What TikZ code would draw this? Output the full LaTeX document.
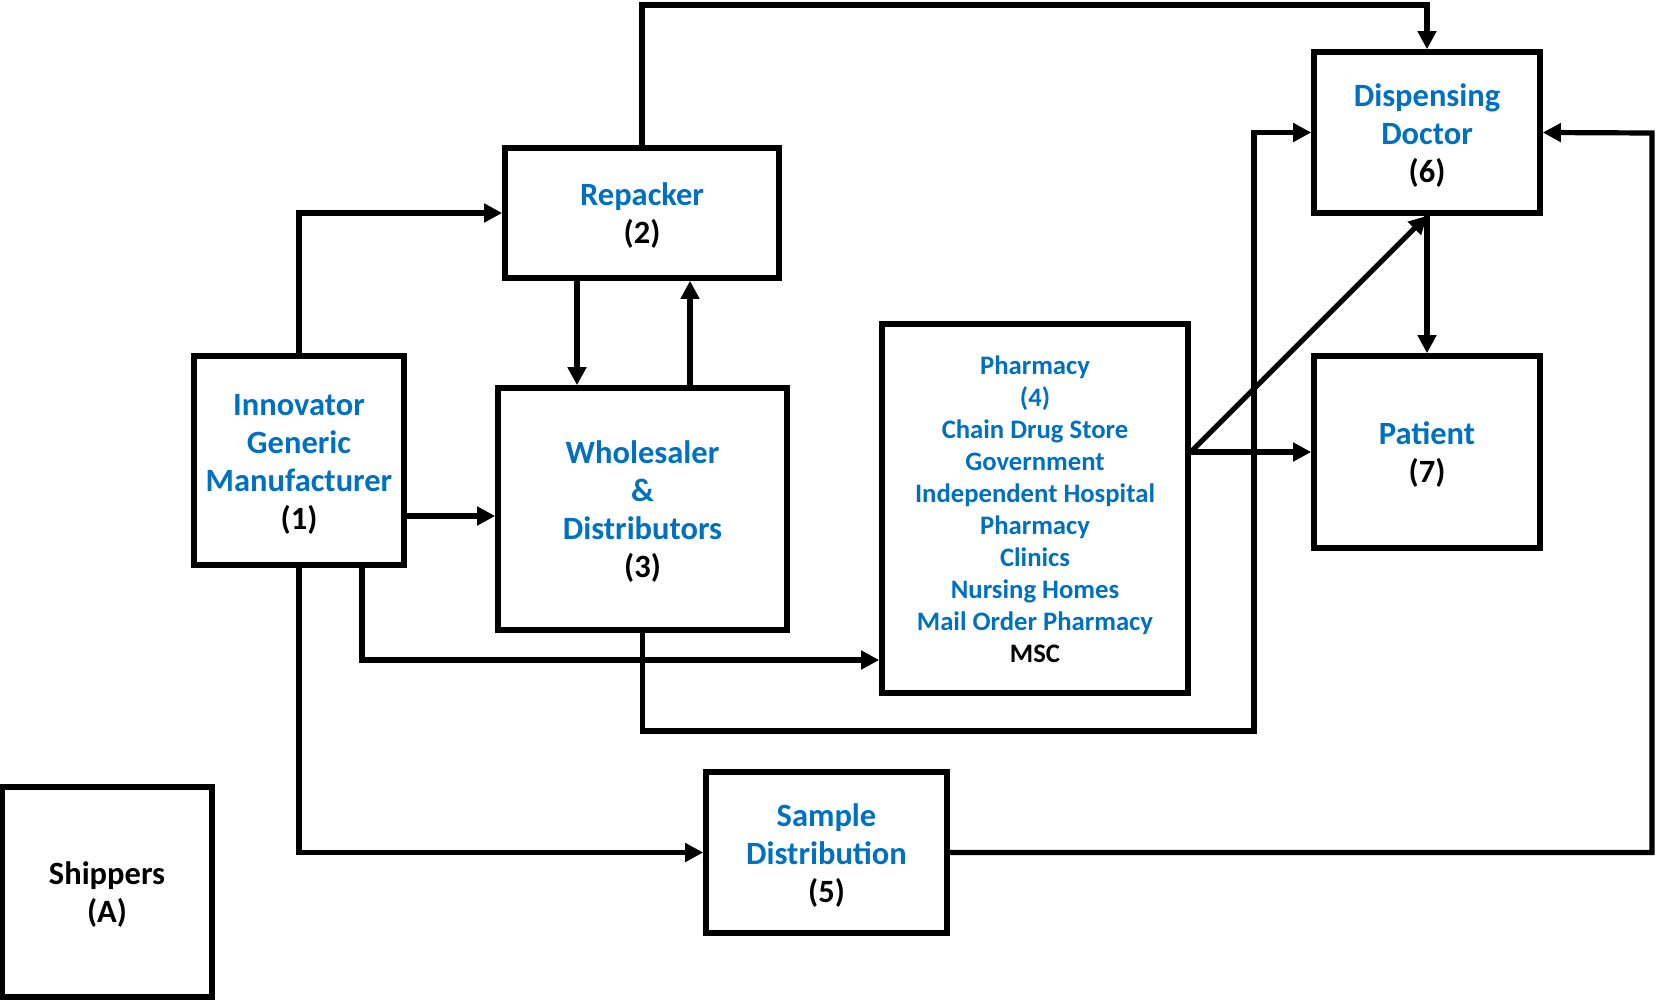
\documentclass[tikz,border=0pt]{standalone}
\usepackage{fontspec}
\setmainfont{Carlito}
\usetikzlibrary{arrows.meta}
\definecolor{myblue}{HTML}{0070C0}
\tikzset{
  box/.style={draw, line width=5.6pt, inner sep=0pt, font=\fontsize{32.5}{38}\selectfont\bfseries, text=myblue},
  conn/.style={line width=5.2pt},
  arr/.style={conn, -{Triangle[length=18pt,width=18pt]}},
}
\newcommand{\num}[1]{\textcolor{black}{#1}}
\newcommand{\boxtext}[1]{\raisebox{-4pt}[\height][\depth]{\begin{tabular}{@{}c@{}}#1\end{tabular}}}
\begin{document}
\begin{tikzpicture}[x=1pt,y=-1pt]
\useasboundingbox (0,0) rectangle (1657,999);
\node[box, minimum width=210pt, minimum height=209pt] (n1) at (299,460.5) {\boxtext{Innovator\\Generic\\Manufacturer\\\num{(1)}}};
\node[box, minimum width=274pt, minimum height=130pt] (n2) at (642,213) {\boxtext{Repacker\\\num{(2)}}};
\node[box, minimum width=289pt, minimum height=242pt] (n3) at (642.5,509) {\boxtext{Wholesaler\\\&\\Distributors\\\num{(3)}}};
\node[box, minimum width=306pt, minimum height=369pt, font=\fontsize{26.7}{32}\selectfont\bfseries] (n4) at (1035,508.5) {\boxtext{Pharmacy\\(4)\\Chain Drug Store\\Government\\Independent Hospital\\Pharmacy\\Clinics\\Nursing Homes\\Mail Order Pharmacy\\\num{MSC}}};
\node[box, minimum width=241pt, minimum height=161pt] (n5) at (826.5,852.5) {\boxtext{Sample\\Distribution\\\num{(5)}}};
\node[box, minimum width=226pt, minimum height=161pt] (n6) at (1427,132.5) {\boxtext{Dispensing\\Doctor\\\num{(6)}}};
\node[box, minimum width=226pt, minimum height=192pt] (n7) at (1427,452) {\boxtext{Patient\\\num{(7)}}};
\node[box, minimum width=210pt, minimum height=210pt, text=black] (nA) at (107,892) {\boxtext{Shippers\\(A)}};

\draw[arr] (n1.north) |- (n2.west);
\draw[arr] (n1.east |- 0,516) -- (n3.west |- 0,516);
\draw[arr] (n2.south -| 577,0) -- (n3.north -| 577,0);
\draw[arr] (n3.north -| 690,0) -- (n2.south -| 690,0);
\draw[arr] (n2.north) |- (1427,5) -- (n6.north);
\draw[arr] (n1.south -| 362,0) |- (n4.west |- 0,660);
\draw[arr] (n1.south) |- (n5.west);
\draw[arr] (n3.south) |- (1254,731) |- (n6.west);
\draw[arr] (n4.east |- n7.west) -- (n7.west);
\draw[arr] (n4.east |- n7.west) -- (n6.south);
\draw[arr] (n6.south) -- (n7.north);
\draw[arr] (n5.east) -| (1652,133) -- (n6.east);
\end{tikzpicture}
\end{document}
